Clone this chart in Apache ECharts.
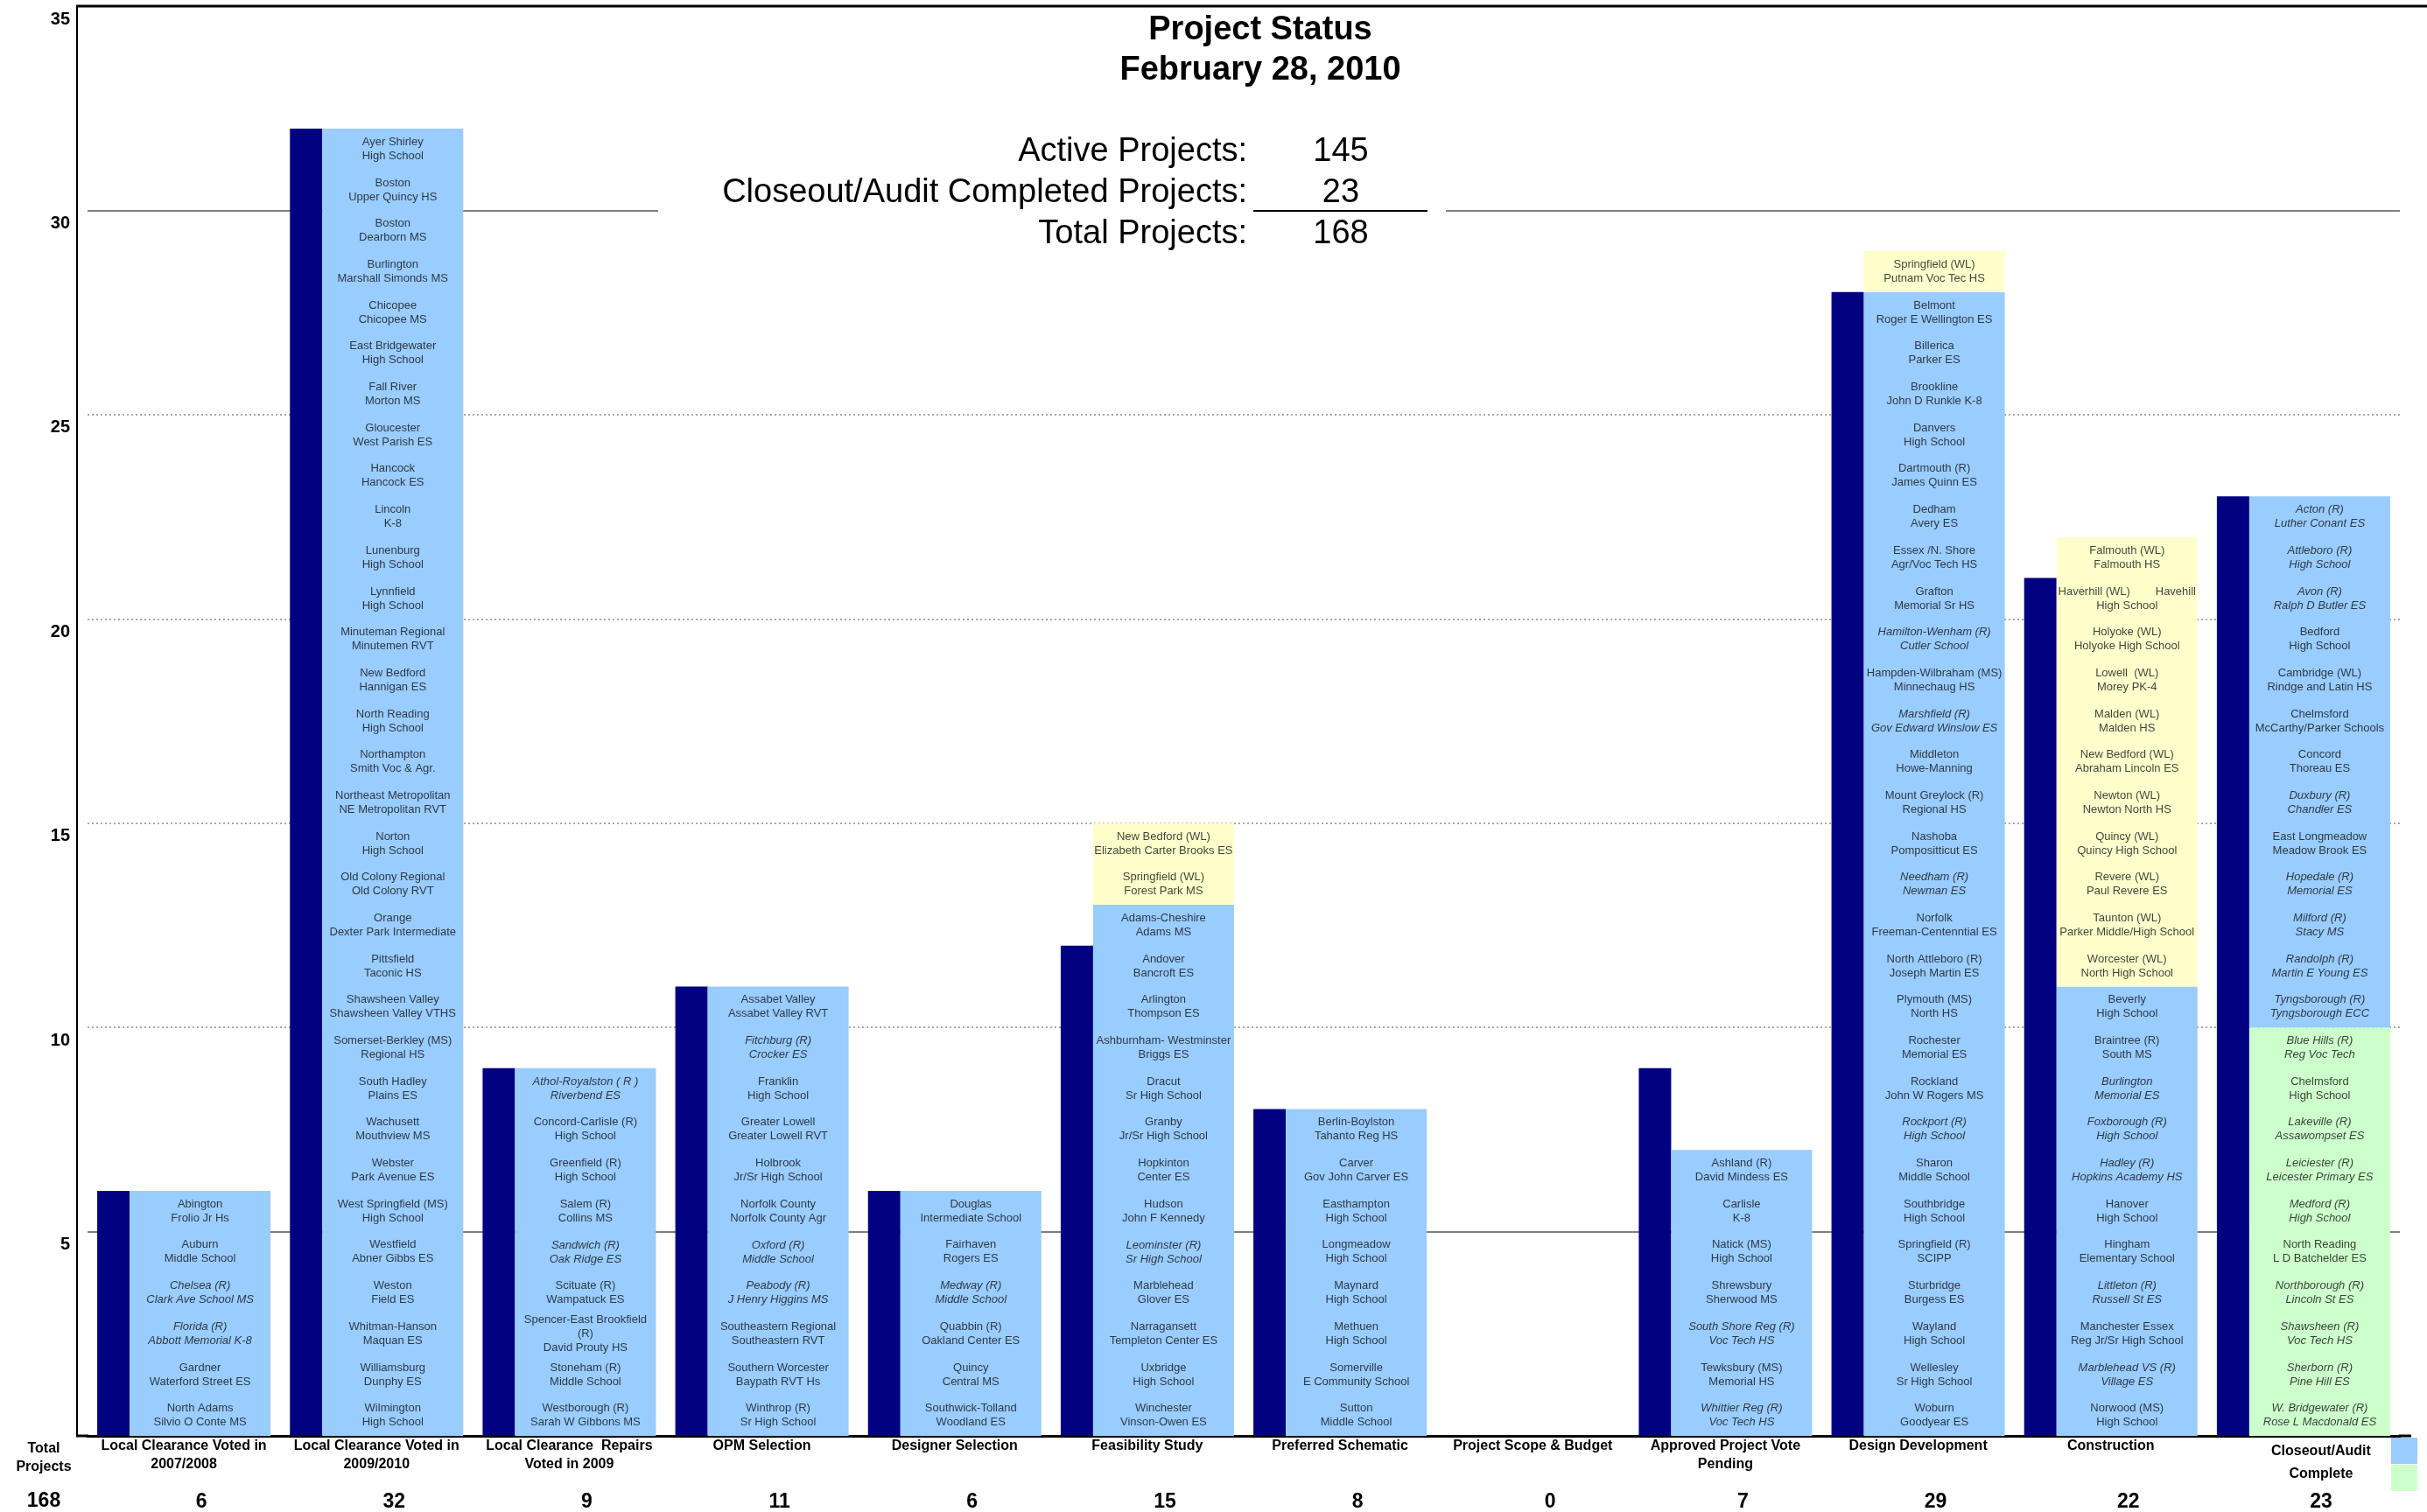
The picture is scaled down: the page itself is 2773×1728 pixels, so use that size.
<!DOCTYPE html>
<html>
<head>
<meta charset="utf-8">
<title>Project Status</title>
<script src="https://cdn.jsdelivr.net/npm/echarts@6/dist/echarts.min.js"></script>
<style>
html, body { margin: 0; padding: 0; background: #fff; }
#chart { width: 2773px; height: 1728px; }
</style>
</head>
<body>
<div id="chart"></div>
<script>
const stageNames = [
    'Local Clearance Voted in\n2007/2008',
    'Local Clearance Voted in\n2009/2010',
    'Local Clearance  Repairs\nVoted in 2009',
    'OPM Selection',
    'Designer Selection',
    'Feasibility Study',
    'Preferred Schematic',
    'Project Scope & Budget',
    'Approved Project Vote\nPending',
    'Design Development',
    'Construction',
    'Closeout/Audit\nComplete'
];
// dark bar per stage
const stageCounts = [6, 32, 9, 11, 6, 12, 8, 0, 9, 28, 21, 23];
// number row under the axis
const stageTotals = [6, 32, 9, 11, 6, 15, 8, 0, 7, 29, 22, 23];
const activeProjects = 145;
const closedProjects = 23;
const totalProjects = 168;
const yTicks = [0, 5, 10, 15, 20, 25, 30, 35];

// projects listed top to bottom inside each light bar
const blueProjects = [
    ['Abington\nFrolio Jr Hs', 'Auburn\nMiddle School', 'Chelsea (R)\nClark Ave School MS', 'Florida (R)\nAbbott Memorial K-8',
     'Gardner\nWaterford Street ES', 'North Adams\nSilvio O Conte MS'],
    ['Ayer Shirley\nHigh School', 'Boston\nUpper Quincy HS', 'Boston\nDearborn MS', 'Burlington\nMarshall Simonds MS',
     'Chicopee\nChicopee MS', 'East Bridgewater\nHigh School', 'Fall River\nMorton MS', 'Gloucester\nWest Parish ES',
     'Hancock\nHancock ES', 'Lincoln\nK-8', 'Lunenburg\nHigh School', 'Lynnfield\nHigh School',
     'Minuteman Regional\nMinutemen RVT', 'New Bedford\nHannigan ES', 'North Reading\nHigh School', 'Northampton\nSmith Voc & Agr.',
     'Northeast Metropolitan\nNE Metropolitan RVT', 'Norton\nHigh School', 'Old Colony Regional\nOld Colony RVT', 'Orange\nDexter Park Intermediate',
     'Pittsfield\nTaconic HS', 'Shawsheen Valley\nShawsheen Valley VTHS', 'Somerset-Berkley (MS)\nRegional HS', 'South Hadley\nPlains ES',
     'Wachusett\nMouthview MS', 'Webster\nPark Avenue ES', 'West Springfield (MS)\nHigh School', 'Westfield\nAbner Gibbs ES',
     'Weston\nField ES', 'Whitman-Hanson\nMaquan ES', 'Williamsburg\nDunphy ES', 'Wilmington\nHigh School'],
    ['Athol-Royalston ( R )\nRiverbend ES', 'Concord-Carlisle (R)\nHigh School', 'Greenfield (R)\nHigh School', 'Salem (R)\nCollins MS',
     'Sandwich (R)\nOak Ridge ES', 'Scituate (R)\nWampatuck ES', 'Spencer-East Brookfield\n(R)\nDavid Prouty HS',
     'Stoneham (R)\nMiddle School', 'Westborough (R)\nSarah W Gibbons MS'],
    ['Assabet Valley\nAssabet Valley RVT', 'Fitchburg (R)\nCrocker ES', 'Franklin\nHigh School', 'Greater Lowell\nGreater Lowell RVT',
     'Holbrook\nJr/Sr High School', 'Norfolk County\nNorfolk County Agr', 'Oxford (R)\nMiddle School', 'Peabody (R)\nJ Henry Higgins MS',
     'Southeastern Regional\nSoutheastern RVT', 'Southern Worcester\nBaypath RVT Hs', 'Winthrop (R)\nSr High School'],
    ['Douglas\nIntermediate School', 'Fairhaven\nRogers ES', 'Medway (R)\nMiddle School', 'Quabbin (R)\nOakland Center ES',
     'Quincy\nCentral MS', 'Southwick-Tolland\nWoodland ES'],
    ['Adams-Cheshire\nAdams MS', 'Andover\nBancroft ES', 'Arlington\nThompson ES', 'Ashburnham- Westminster\nBriggs ES',
     'Dracut\nSr High School', 'Granby\nJr/Sr High School', 'Hopkinton\nCenter ES', 'Hudson\nJohn F Kennedy',
     'Leominster (R)\nSr High School', 'Marblehead\nGlover ES', 'Narragansett\nTempleton Center ES', 'Uxbridge\nHigh School',
     'Winchester\nVinson-Owen ES'],
    ['Berlin-Boylston\nTahanto Reg HS', 'Carver\nGov John Carver ES', 'Easthampton\nHigh School', 'Longmeadow\nHigh School',
     'Maynard\nHigh School', 'Methuen\nHigh School', 'Somerville\nE Community School', 'Sutton\nMiddle School'],
    [],
    ['Ashland (R)\nDavid Mindess ES', 'Carlisle\nK-8', 'Natick (MS)\nHigh School', 'Shrewsbury\nSherwood MS',
     'South Shore Reg (R)\nVoc Tech HS', 'Tewksbury (MS)\nMemorial HS', 'Whittier Reg (R)\nVoc Tech HS'],
    ['Belmont\nRoger E Wellington ES', 'Billerica\nParker ES', 'Brookline\nJohn D Runkle K-8', 'Danvers\nHigh School',
     'Dartmouth (R)\nJames Quinn ES', 'Dedham\nAvery ES', 'Essex /N. Shore\nAgr/Voc Tech HS', 'Grafton\nMemorial Sr HS',
     'Hamilton-Wenham (R)\nCutler School', 'Hampden-Wilbraham (MS)\nMinnechaug HS', 'Marshfield (R)\nGov Edward Winslow ES', 'Middleton\nHowe-Manning',
     'Mount Greylock (R)\nRegional HS', 'Nashoba\nPompositticut ES', 'Needham (R)\nNewman ES', 'Norfolk\nFreeman-Centenntial ES',
     'North Attleboro (R)\nJoseph Martin ES', 'Plymouth (MS)\nNorth HS', 'Rochester\nMemorial ES', 'Rockland\nJohn W Rogers MS',
     'Rockport (R)\nHigh School', 'Sharon\nMiddle School', 'Southbridge\nHigh School', 'Springfield (R)\nSCIPP',
     'Sturbridge\nBurgess ES', 'Wayland\nHigh School', 'Wellesley\nSr High School', 'Woburn\nGoodyear ES'],
    ['Beverly\nHigh School', 'Braintree (R)\nSouth MS', 'Burlington\nMemorial ES', 'Foxborough (R)\nHigh School',
     'Hadley (R)\nHopkins Academy HS', 'Hanover\nHigh School', 'Hingham\nElementary School', 'Littleton (R)\nRussell St ES',
     'Manchester Essex\nReg Jr/Sr High School', 'Marblehead VS (R)\nVillage ES', 'Norwood (MS)\nHigh School'],
    ['Acton (R)\nLuther Conant ES', 'Attleboro (R)\nHigh School', 'Avon (R)\nRalph D Butler ES', 'Bedford\nHigh School',
     'Cambridge (WL)\nRindge and Latin HS', 'Chelmsford\nMcCarthy/Parker Schools', 'Concord\nThoreau ES', 'Duxbury (R)\nChandler ES',
     'East Longmeadow\nMeadow Brook ES', 'Hopedale (R)\nMemorial ES', 'Milford (R)\nStacy MS', 'Randolph (R)\nMartin E Young ES',
     'Tyngsborough (R)\nTyngsborough ECC']
];
const yellowProjects = [
    [], [], [], [], [],
    ['New Bedford (WL)\nElizabeth Carter Brooks ES', 'Springfield (WL)\nForest Park MS'],
    [], [], [],
    ['Springfield (WL)\nPutnam Voc Tec HS'],
    ['Falmouth (WL)\nFalmouth HS', 'Haverhill (WL)        Havehill\nHigh School', 'Holyoke (WL)\nHolyoke High School', 'Lowell  (WL)\nMorey PK-4',
     'Malden (WL)\nMalden HS', 'New Bedford (WL)\nAbraham Lincoln ES', 'Newton (WL)\nNewton North HS', 'Quincy (WL)\nQuincy High School',
     'Revere (WL)\nPaul Revere ES', 'Taunton (WL)\nParker Middle/High School', 'Worcester (WL)\nNorth High School'],
    []
];
const greenProjects = [
    [], [], [], [], [], [], [], [], [], [], [],
    ['Blue Hills (R)\nReg Voc Tech', 'Chelmsford\nHigh School', 'Lakeville (R)\nAssawompset ES', 'Leiciester (R)\nLeicester Primary ES',
     'Medford (R)\nHigh School', 'North Reading\nL D Batchelder ES', 'Northborough (R)\nLincoln St ES', 'Shawsheen (R)\nVoc Tech HS',
     'Sherborn (R)\nPine Hill ES', 'W. Bridgewater (R)\nRose L Macdonald ES']
];
// names printed in italics in the original
const italicProjects = [
    'Chelsea (R)\nClark Ave School MS', 'Florida (R)\nAbbott Memorial K-8', 'Athol-Royalston ( R )\nRiverbend ES',
    'Sandwich (R)\nOak Ridge ES', 'Fitchburg (R)\nCrocker ES', 'Oxford (R)\nMiddle School', 'Peabody (R)\nJ Henry Higgins MS',
    'Medway (R)\nMiddle School', 'Leominster (R)\nSr High School', 'South Shore Reg (R)\nVoc Tech HS', 'Whittier Reg (R)\nVoc Tech HS',
    'Hamilton-Wenham (R)\nCutler School', 'Marshfield (R)\nGov Edward Winslow ES', 'Needham (R)\nNewman ES', 'Rockport (R)\nHigh School',
    'Burlington\nMemorial ES', 'Foxborough (R)\nHigh School', 'Hadley (R)\nHopkins Academy HS', 'Littleton (R)\nRussell St ES',
    'Marblehead VS (R)\nVillage ES', 'Acton (R)\nLuther Conant ES', 'Attleboro (R)\nHigh School', 'Avon (R)\nRalph D Butler ES',
    'Duxbury (R)\nChandler ES', 'Hopedale (R)\nMemorial ES', 'Milford (R)\nStacy MS', 'Randolph (R)\nMartin E Young ES',
    'Tyngsborough (R)\nTyngsborough ECC', 'Blue Hills (R)\nReg Voc Tech', 'Lakeville (R)\nAssawompset ES',
    'Leiciester (R)\nLeicester Primary ES', 'Medford (R)\nHigh School', 'Northborough (R)\nLincoln St ES',
    'Shawsheen (R)\nVoc Tech HS', 'Sherborn (R)\nPine Hill ES', 'W. Bridgewater (R)\nRose L Macdonald ES'
];

const FONT = "'Liberation Sans', Arial, sans-serif";
const chart = echarts.init(document.getElementById('chart'));

// text points: one per project, centred in its unit of the stacked bar
const projectLabels = [];
stageNames.forEach(function (s, i) {
    const list = yellowProjects[i].concat(blueProjects[i], greenProjects[i]);
    list.forEach(function (name, k) {
        const item = { value: [i, list.length - k - 0.5], name: name };
        if (italicProjects.indexOf(name) >= 0) {
            item.label = { fontStyle: 'italic' };
        }
        projectLabels.push(item);
    });
});

const axisData = stageNames.map(function (s, i) {
    if (i === stageNames.length - 1) {
        return { value: s, textStyle: { lineHeight: 26, padding: [4, 0, 0, 40] } };
    }
    return s;
});

chart.setOption({
    animation: false,
    backgroundColor: '#fff',
    textStyle: { fontFamily: FONT },
    grid: { left: 100, right: 31, top: 7, bottom: 87 },
    xAxis: [
        {
            type: 'category',
            data: axisData,
            axisLine: { lineStyle: { color: '#000', width: 3 } },
            axisTick: { show: false },
            axisLabel: {
                interval: 0, margin: 1, color: '#000', fontFamily: FONT,
                fontWeight: 'bold', fontSize: 16, lineHeight: 21
            }
        },
        {
            type: 'category',
            position: 'bottom',
            offset: 56,
            data: stageTotals.map(String),
            axisLine: { show: false },
            axisTick: { show: false },
            axisLabel: {
                interval: 0, margin: 8, color: '#000', fontFamily: FONT,
                fontWeight: 'bold', fontSize: 23, padding: [0, 0, 0, 40]
            }
        }
    ],
    yAxis: {
        type: 'value',
        min: yTicks[0],
        max: yTicks[yTicks.length - 1],
        interval: 5,
        offset: 12,
        axisLine: { show: true, lineStyle: { color: '#000', width: 2 } },
        axisTick: { show: false },
        axisLabel: {
            margin: 8, color: '#000', fontFamily: FONT, fontWeight: 'bold', fontSize: 20,
            verticalAlign: 'top', padding: [5, 0, 0, 0],
            formatter: function (v) { return v === 0 ? '' : String(v); }
        },
        splitLine: { lineStyle: { color: '#8c8c8c', type: [2, 3], width: 1.5 } }
    },
    series: [
        {
            name: 'Projects',
            type: 'bar',
            barWidth: 37,
            barGap: '0%',
            itemStyle: { color: '#000080' },
            data: stageCounts,
            markLine: {
                silent: true,
                z: 1,
                symbol: 'none',
                label: { show: false },
                lineStyle: { color: '#808080', type: 'solid', width: 2 },
                data: [{ yAxis: 5 }, { yAxis: 30 }]
            }
        },
        {
            name: 'Closeout/Audit Complete',
            type: 'bar',
            stack: 'items',
            barWidth: 161,
            barGap: '0%',
            itemStyle: { color: '#CCFFCC' },
            data: greenProjects.map(function (a) { return a.length; })
        },
        {
            name: 'Active',
            type: 'bar',
            stack: 'items',
            barWidth: 161,
            barGap: '0%',
            itemStyle: { color: '#99CCFF' },
            data: blueProjects.map(function (a) { return a.length; })
        },
        {
            name: 'WL',
            type: 'bar',
            stack: 'items',
            barWidth: 161,
            barGap: '0%',
            itemStyle: { color: '#FFFFCC' },
            data: yellowProjects.map(function (a) { return a.length; })
        },
        {
            name: 'labels',
            type: 'scatter',
            silent: true,
            z: 6,
            symbolSize: 1,
            itemStyle: { color: 'rgba(0,0,0,0)' },
            label: {
                show: true,
                position: 'inside',
                offset: [18.5, 0],
                color: '#111',
                fontFamily: FONT,
                fontSize: 13,
                lineHeight: 16,
                align: 'center',
                formatter: function (p) { return p.name; }
            },
            data: projectLabels
        }
    ],
    graphic: [
        // frame pieces
        { type: 'line', z: 10, shape: { x1: 87, y1: 7, x2: 2773, y2: 7 }, style: { stroke: '#000', lineWidth: 3 } },
        { type: 'line', z: 10, shape: { x1: 87, y1: 1641, x2: 101, y2: 1641 }, style: { stroke: '#000', lineWidth: 3 } },
        { type: 'line', z: 10, shape: { x1: 2741, y1: 1641, x2: 2755, y2: 1641 }, style: { stroke: '#000', lineWidth: 3 } },
        // summary box
        { type: 'rect', z: 3, shape: { x: 752, y: 140, width: 900, height: 150 }, style: { fill: '#fff' } },
        {
            type: 'text', z: 10, x: 1440, y: 35,
            style: { text: 'Project Status', font: 'bold 38px ' + FONT, fill: '#000', align: 'center', verticalAlign: 'middle' }
        },
        {
            type: 'text', z: 10, x: 1440, y: 81,
            style: { text: 'February 28, 2010', font: 'bold 38px ' + FONT, fill: '#000', align: 'center', verticalAlign: 'middle' }
        },
        {
            type: 'text', z: 10, x: 1425, y: 174,
            style: { text: 'Active Projects:', font: '38px ' + FONT, fill: '#000', align: 'right', verticalAlign: 'middle' }
        },
        {
            type: 'text', z: 10, x: 1425, y: 221,
            style: { text: 'Closeout/Audit Completed Projects:', font: '38px ' + FONT, fill: '#000', align: 'right', verticalAlign: 'middle' }
        },
        {
            type: 'text', z: 10, x: 1425, y: 268,
            style: { text: 'Total Projects:', font: '38px ' + FONT, fill: '#000', align: 'right', verticalAlign: 'middle' }
        },
        {
            type: 'text', z: 10, x: 1532, y: 174,
            style: { text: String(activeProjects), font: '38px ' + FONT, fill: '#000', align: 'center', verticalAlign: 'middle' }
        },
        {
            type: 'text', z: 10, x: 1532, y: 221,
            style: { text: String(closedProjects), font: '38px ' + FONT, fill: '#000', align: 'center', verticalAlign: 'middle' }
        },
        {
            type: 'text', z: 10, x: 1532, y: 268,
            style: { text: String(totalProjects), font: '38px ' + FONT, fill: '#000', align: 'center', verticalAlign: 'middle' }
        },
        { type: 'line', z: 10, shape: { x1: 1432, y1: 241, x2: 1631, y2: 241 }, style: { stroke: '#000', lineWidth: 2 } },
        // bottom left totals
        {
            type: 'text', z: 10, x: 50, y: 1645,
            style: { text: 'Total\nProjects', font: 'bold 16px ' + FONT, lineHeight: 21, fill: '#000', align: 'center', verticalAlign: 'top' }
        },
        {
            type: 'text', z: 10, x: 50, y: 1716,
            style: { text: String(totalProjects), font: 'bold 23px ' + FONT, fill: '#000', align: 'center', verticalAlign: 'middle' }
        },
        // legend keys, cut off at the right edge
        { type: 'rect', z: 10, shape: { x: 2732, y: 1643, width: 30, height: 30 }, style: { fill: '#99CCFF' } },
        { type: 'rect', z: 10, shape: { x: 2732, y: 1674, width: 30, height: 30 }, style: { fill: '#CCFFCC' } }
    ]
});
</script>
</body>
</html>
